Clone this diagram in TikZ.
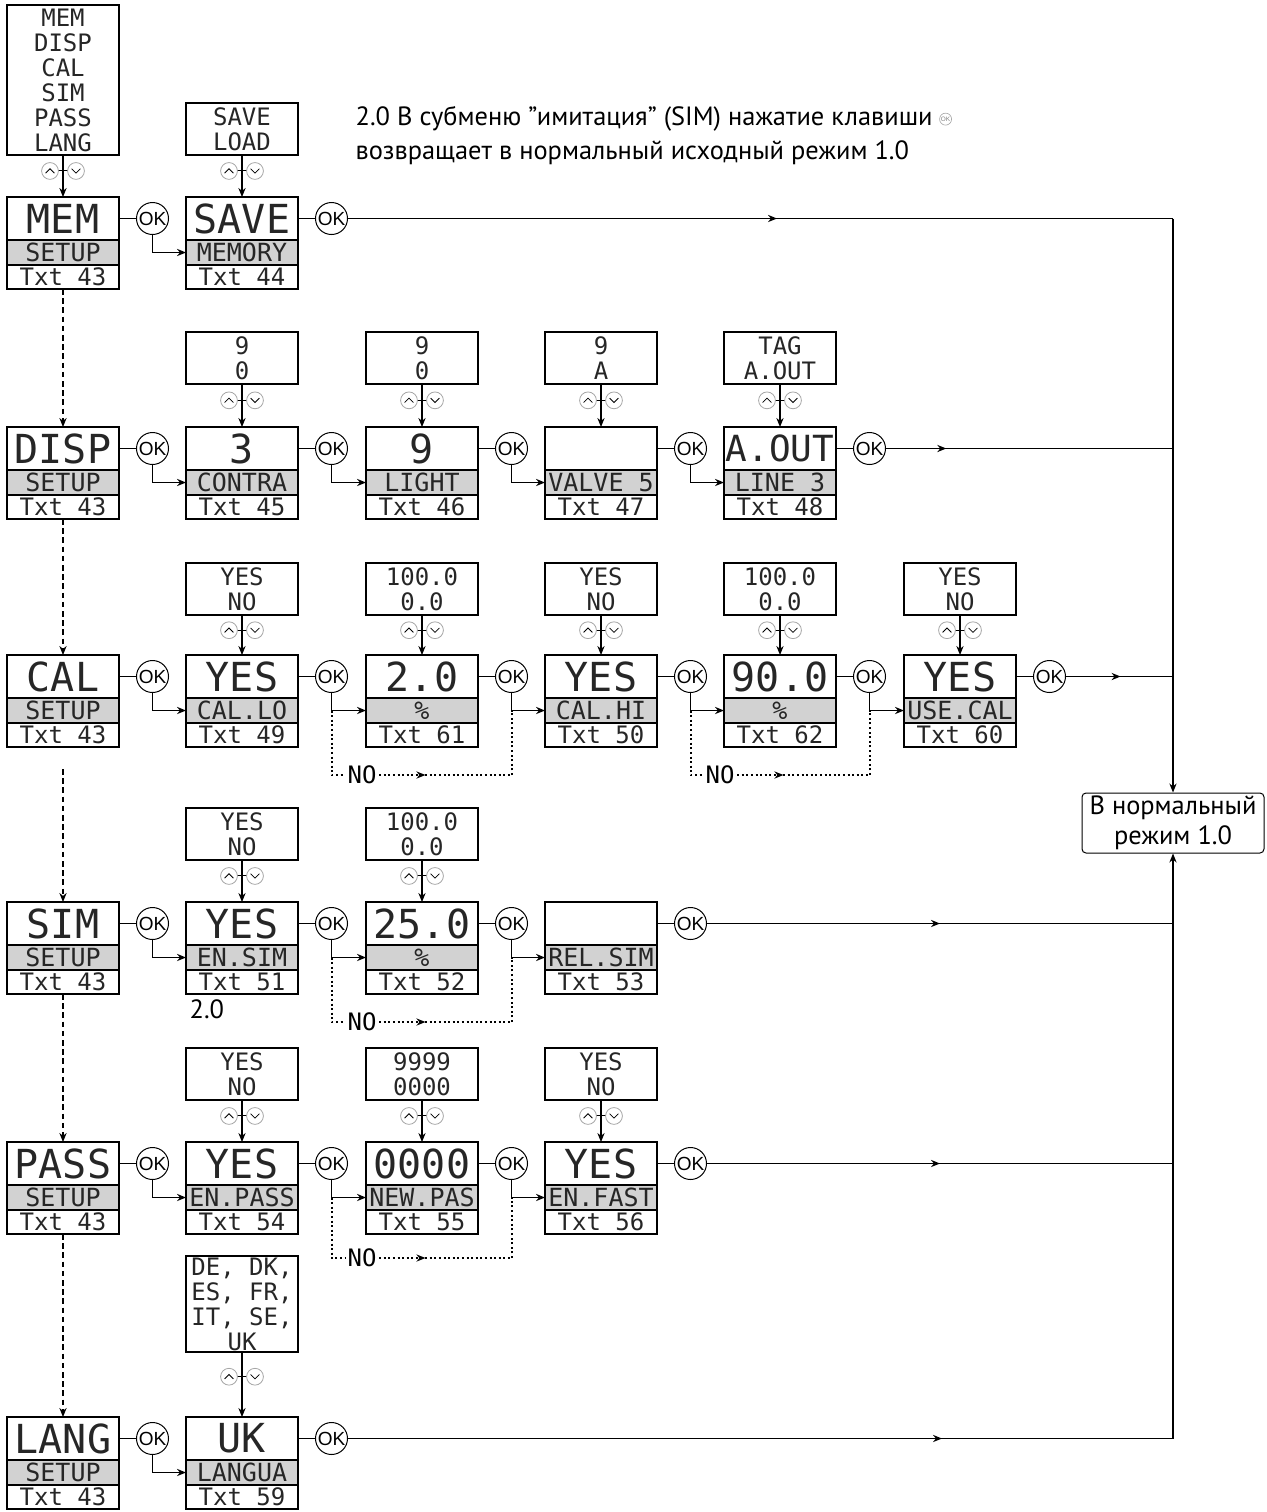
\documentclass[tikz,border=0pt]{standalone}
\usepackage{fontspec}
\setmainfont{PT Sans}
\newfontfamily\lcd{DejaVu Sans Mono}
\newfontfamily\okfnt{Liberation Sans}
\usetikzlibrary{arrows.meta,positioning,calc,decorations.markings}

% one display: top line, grey line, text number
\newcommand\lcdbox[6]{%
  \node[lcdtop] (#1) at (#2,#3) {#4};
  \node[lcdmid, below=0pt of #1] (#1-m) {#5};
  \node[lcdlow, below=0pt of #1-m] (#1-b) {#6};
}

\begin{document}
\begin{tikzpicture}[
  x=0.5pt, y=-0.5pt,
  >={Stealth[length=4.5pt,width=3.6pt]},
  line width=0.65pt,
  lcdbase/.style={draw, line width=0.9pt, minimum width=56pt, inner sep=0pt,
    outer sep=0pt, text=black!85},
  lcdtop/.style={lcdbase, anchor=north west, minimum height=21.5pt,
    font=\lcd\fontsize{20}{20}\selectfont},
  lcdmid/.style={lcdbase, fill=gray!35, minimum height=12.5pt,
    font=\lcd\fontsize{12.5}{12.5}\selectfont},
  lcdlow/.style={lcdbase, minimum height=12pt,
    font=\lcd\fontsize{12}{12}\selectfont},
  optbox/.style={lcdbase, anchor=north west, align=center, minimum height=26pt,
    font=\lcd\fontsize{12}{12.5}\selectfont},
  okc/.style={circle, draw, line width=0.5pt, minimum size=16pt, inner sep=0pt,
    font=\okfnt\fontsize{9.5}{9.5}\selectfont},
  updn/.style={line width=0.4pt, draw=gray!70},
  dashar/.style={line width=1.2pt, dash pattern=on 2.8pt off 1.8pt},
  nodots/.style={line width=1pt, dash pattern=on 1pt off 1.3pt},
  nolbl/.style={fill=white, inner sep=1pt, font=\lcd\fontsize{12}{12}\selectfont},
  notetxt/.style={inner sep=0pt, font=\fontsize{13.2}{15}\selectfont},
  homebox/.style={draw, line width=0.5pt, rounded corners=2pt, align=center,
    minimum width=91pt, minimum height=30pt, inner sep=0pt,
    font=\fontsize{13.2}{15}\selectfont},
  midarr/.style={postaction={decorate}, decoration={markings,
    mark=at position #1 with {\arrow{Stealth[length=4.5pt,width=3.6pt]}}}}
]
\useasboundingbox (0,0) rectangle (1267,1512);

% note
\node[notetxt, anchor=north west] (note) at (355,106) {2.0 В субменю "имитация" (SIM) нажатие клавиши};
\node[circle, draw=gray!70, line width=0.3pt, minimum size=6pt, inner sep=0pt,
  right=3pt of note, font=\okfnt\fontsize{3.2}{3.2}\selectfont, text=gray] (okmini) {OK};
\node[notetxt, below=4pt of note.south west, anchor=north west] (note2) {возвращает в нормальный исходный режим 1.0};

\node[homebox] (home) at (1173,823) {В нормальный\\режим 1.0};

% option lists
\node[optbox, minimum height=75pt] (lmenu) at (7,5) {MEM\\DISP\\CAL\\SIM\\PASS\\LANG};
\node[optbox] (lsave) at (186,103) {SAVE\\LOAD};
\node[optbox] (lcontra) at (186,332) {9\\0};
\node[optbox] (llight) at (366,332) {9\\0};
\node[optbox] (lvalve) at (545,332) {9\\A};
\node[optbox] (laout) at (724,332) {TAG\\A.OUT};
\node[optbox] (lcallo) at (186,563) {YES\\NO};
\node[optbox] (lpcta) at (366,563) {100.0\\0.0};
\node[optbox] (lcalhi) at (545,563) {YES\\NO};
\node[optbox] (lpctb) at (724,563) {100.0\\0.0};
\node[optbox] (lusecal) at (904,563) {YES\\NO};
\node[optbox] (lensim) at (186,808) {YES\\NO};
\node[optbox] (lsimval) at (366,808) {100.0\\0.0};
\node[optbox] (lenpass) at (186,1048) {YES\\NO};
\node[optbox] (lnewpas) at (366,1048) {9999\\0000};
\node[optbox] (lenfast) at (545,1048) {YES\\NO};
\node[optbox, minimum height=48pt] (llangua) at (186,1256) {DE, DK,\\ES, FR,\\IT, SE,\\UK};

% displays
\lcdbox{mem}{7}{197}{MEM}{SETUP}{Txt 43}
\lcdbox{save}{186}{197}{SAVE}{MEMORY}{Txt 44}
\lcdbox{disp}{7}{427}{DISP}{SETUP}{Txt 43}
\lcdbox{contra}{186}{427}{3}{CONTRA}{Txt 45}
\lcdbox{light}{366}{427}{9}{LIGHT}{Txt 46}
\lcdbox{valve}{545}{427}{}{VALVE 5}{Txt 47}
\lcdbox{aout}{724}{427}{\fontsize{18}{18}\selectfont A.OUT}{LINE 3}{Txt 48}
\lcdbox{cal}{7}{655}{CAL}{SETUP}{Txt 43}
\lcdbox{callo}{186}{655}{YES}{CAL.LO}{Txt 49}
\lcdbox{pcta}{366}{655}{2.0}{\%}{Txt 61}
\lcdbox{calhi}{545}{655}{YES}{CAL.HI}{Txt 50}
\lcdbox{pctb}{724}{655}{90.0}{\%}{Txt 62}
\lcdbox{usecal}{904}{655}{YES}{USE.CAL}{Txt 60}
\lcdbox{sim}{7}{902}{SIM}{SETUP}{Txt 43}
\lcdbox{ensim}{186}{902}{YES}{EN.SIM}{Txt 51}
\lcdbox{simval}{366}{902}{25.0}{\%}{Txt 52}
\lcdbox{relsim}{545}{902}{}{REL.SIM}{Txt 53}
\lcdbox{pass}{7}{1142}{PASS}{SETUP}{Txt 43}
\lcdbox{enpass}{186}{1142}{YES}{EN.PASS}{Txt 54}
\lcdbox{newpas}{366}{1142}{0000}{NEW.PAS}{Txt 55}
\lcdbox{enfast}{545}{1142}{YES}{EN.FAST}{Txt 56}
\lcdbox{lang}{7}{1417}{LANG}{SETUP}{Txt 43}
\lcdbox{langua}{186}{1417}{UK}{LANGUA}{Txt 59}

\node[notetxt, anchor=north west] (lbl20) at (189,999) {2.0};

% up/down keys
\foreach \a/\b in {lmenu/mem, lsave/save, lcontra/contra, llight/light, lvalve/valve,
  laout/aout, lcallo/callo, lpcta/pcta, lcalhi/calhi, lpctb/pctb, lusecal/usecal,
  lensim/ensim, lsimval/simval, lenpass/enpass, lnewpas/newpas, lenfast/enfast,
  llangua/langua} {
  \draw[->] (\a.south) -- (\b.north);
  \coordinate (ud) at ($(\a.south)!.38!(\b.north)$);
  \draw[line width=0.5pt] ([xshift=-2.3pt]ud) -- ([xshift=2.3pt]ud);
  \draw[updn] ([xshift=-6.5pt]ud) circle (4.2pt) ([xshift=6.5pt]ud) circle (4.2pt);
  \draw[line width=0.4pt] ([xshift=-8.7pt,yshift=-1.1pt]ud) -- ++(2.2pt,2.2pt) -- ++(2.2pt,-2.2pt);
  \draw[line width=0.4pt] ([xshift=4.3pt,yshift=1.1pt]ud) -- ++(2.2pt,-2.2pt) -- ++(2.2pt,2.2pt);
}

% OK steps
\foreach \a/\b in {mem/save, disp/contra, contra/light, light/valve, valve/aout,
  cal/callo, callo/pcta, pcta/calhi, calhi/pctb, pctb/usecal,
  sim/ensim, ensim/simval, simval/relsim,
  pass/enpass, enpass/newpas, newpas/enfast, lang/langua} {
  \node[okc, right=8.5pt of \a] (ok\a) {OK};
  \draw (\a) -- (ok\a);
  \draw[->] (ok\a) |- (\b-m);
}

% back to normal mode
\foreach \a/\p in {save/.52, aout/.21, usecal/.51, relsim/.5, enfast/.5, langua/.72} {
  \node[okc, right=8.5pt of \a] (ok\a) {OK};
  \draw (\a) -- (ok\a);
  \draw[midarr=\p] (ok\a) -- (ok\a -| home);
}
\draw[->] (oksave -| home) -- (home);
\draw[->] (oklangua -| home) -- (home);

% menu scroll
\foreach \a/\b in {mem/disp, disp/cal, sim/pass, pass/lang}
  \draw[dashar, ->] (\a-b) -- (\b);
\draw[dashar, ->] ([yshift=-11pt]cal-b.south) -- (sim.north);

% NO bypass
\node[nolbl] (noa) at (362,775) {NO};
\node[nolbl] (nob) at (720,775) {NO};
\node[nolbl] (noc) at (362,1022) {NO};
\node[nolbl] (nod) at (362,1258) {NO};
\foreach \n/\a/\b/\c in {noa/okcallo/okpcta/calhi, nob/okcalhi/okpctb/usecal,
  noc/okensim/oksimval/relsim, nod/okenpass/oknewpas/enfast} {
  \draw[nodots] (\a |- \c-m) |- (\n);
  \draw[nodots, midarr=.35] (\n) -- (\n -| \b);
  \draw[nodots] (\n -| \b) -- (\b |- \c-m);
}
\end{tikzpicture}
\end{document}
